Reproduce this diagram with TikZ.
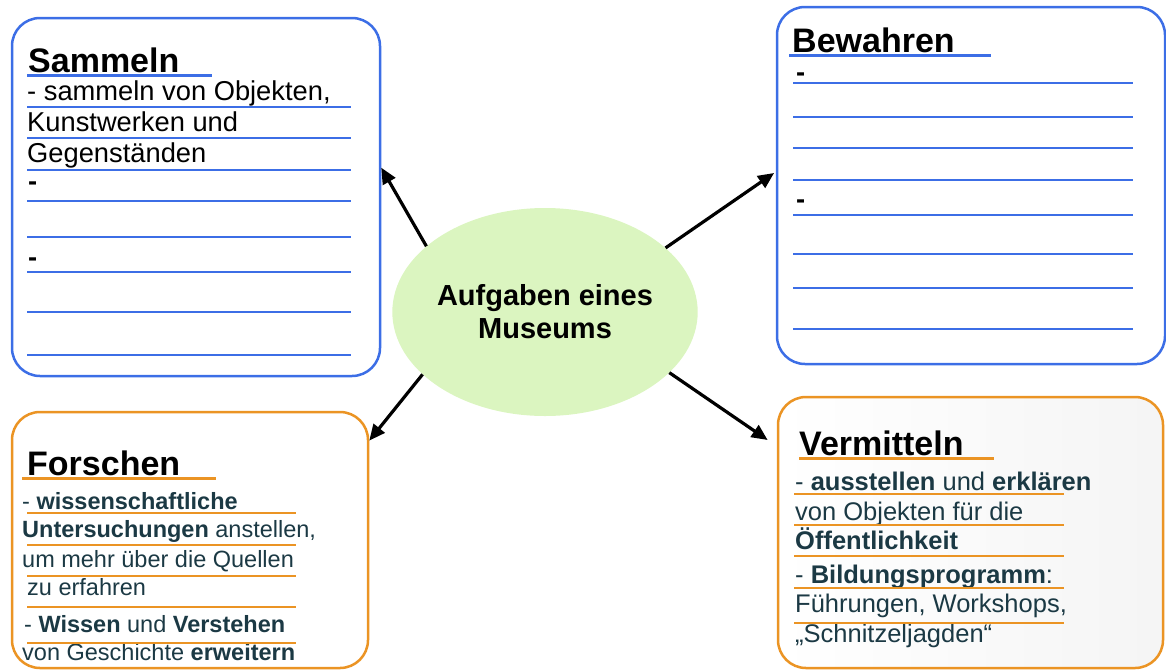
\documentclass[tikz,border=0pt]{standalone}
\usepackage{fontspec}
\setmainfont{Liberation Sans}
\usepackage{tikz}
\usetikzlibrary{arrows.meta}
\usetikzlibrary{shapes.geometric}

\definecolor{taskblue}{HTML}{3C6EE6}
\definecolor{taskorange}{HTML}{EB9424}
\definecolor{museumgreen}{HTML}{DBF5C0}
\definecolor{darkteal}{HTML}{1B3944}

\begin{document}
\begin{tikzpicture}[x=1pt, y=-1pt,
    bluebox/.style={draw=taskblue, line width=2.5pt, rounded corners=28pt, inner sep=0pt},
    orangebox/.style={draw=taskorange, line width=2.5pt, rounded corners=28pt, inner sep=0pt},
    titletext/.style={anchor=base west, inner sep=0pt, font=\fontsize{34}{40}\selectfont\bfseries},
    bodytext/.style={anchor=base west, inner sep=0pt, font=\fontsize{#1}{#1}\selectfont},
    bluerule/.style={draw=taskblue, line width=1.6pt},
    orangerule/.style={draw=taskorange, line width=1.6pt},
    pointer/.style={line width=3.2pt, -{Triangle[length=16pt,width=14pt]}}]
    \useasboundingbox (0,0) rectangle (1166,670);

    % the four boxes and the centre
    \node[bluebox, minimum width=368pt, minimum height=358pt] (sammeln) at (196,197) {};
    \node[bluebox, minimum width=388pt, minimum height=357pt] (bewahren) at (971,185.5) {};
    \node[orangebox, minimum width=356pt, minimum height=256pt] (forschen) at (190,540) {};
    \node[orangebox, left color=white, right color=black!4, minimum width=385pt, minimum height=271pt] (vermitteln) at (970.5,532.5) {};
    \node[ellipse, fill=museumgreen, minimum width=296pt, minimum height=208pt, inner sep=0pt,
          align=center, font=\fontsize{29}{33}\selectfont\bfseries] (museum) at (545,312) {Aufgaben eines\\Museums};

    % Sammeln
    \node[titletext] (sammeln-title) at (28,72) {Sammeln};
    \draw[taskblue, line width=3pt] (27,75) -- (212,75);
    \foreach \x/\y/\t [count=\i] in {27/100/{- sammeln von Objekten,}, 27/131/{Kunstwerken und},
        27/162/{Gegenständen}, 28/190/{\bfseries -}, 28/266/{\bfseries -}}
        \node[bodytext=27.3] (sammeln-\i) at (\x,\y) {\t};
    \foreach \y in {107,138,170,201,237,272,312,355}
        \draw[bluerule] (27,\y) -- (351,\y);

    % Bewahren
    \node[titletext] (bewahren-title) at (792,52) {Bewahren};
    \draw[taskblue, line width=3pt] (789,55) -- (991,55);
    \foreach \y [count=\i] in {81,208}
        \node[bodytext=27.3] (bewahren-\i) at (796,\y) {\bfseries -};
    \foreach \y in {83,117,148,180,215,254,288,329}
        \draw[bluerule] (793,\y) -- (1133,\y);

    % Forschen
    \node[titletext] (forschen-title) at (27,475) {Forschen};
    \draw[taskorange, line width=3pt] (22,478) -- (216,478);
    \begin{scope}[darkteal]
    \foreach \x/\y/\t [count=\i] in {22/509/{- \textbf{wissenschaftliche}},
        22/537/{\textbf{Untersuchungen} anstellen,}, 22/567/{um mehr über die Quellen},
        27/595/{zu erfahren}, 24/632/{- \textbf{Wissen} und \textbf{Verstehen}},
        22/660/{von Geschichte \textbf{erweitern}}}
        \node[bodytext=23.5] (forschen-\i) at (\x,\y) {\t};
    \end{scope}
    \foreach \y in {513,545,576,607,643}
        \draw[orangerule] (27,\y) -- (296,\y);

    % Vermitteln
    \node[titletext] (vermitteln-title) at (799,455) {Vermitteln};
    \draw[taskorange, line width=3pt] (799,458) -- (994,458);
    \begin{scope}[darkteal]
    \foreach \y/\t [count=\i] in {490/{- \textbf{ausstellen} und \textbf{erklären}},
        520/{von Objekten für die}, 549/{\textbf{Öffentlichkeit}},
        583/{- \textbf{Bildungsprogramm}:}, 612/{Führungen, Workshops,},
        642/{„Schnitzeljagden“}}
        \node[bodytext=25.5] (vermitteln-\i) at (795,\y) {\t};
    \end{scope}
    \foreach \y in {494,525,556,588,623}
        \draw[orangerule] (794,\y) -- (1064,\y);

    % arrows
    \draw[pointer] (museum.151.5) -- (sammeln.9.9);
    \draw[pointer, shorten >=2pt] (museum.28.7) -- (bewahren.176.1);
    \draw[pointer] (museum.207.3) -- (forschen.29.4);
    \draw[pointer, shorten >=11pt] (museum.-26) -- (vermitteln.156.3);
\end{tikzpicture}
\end{document}
